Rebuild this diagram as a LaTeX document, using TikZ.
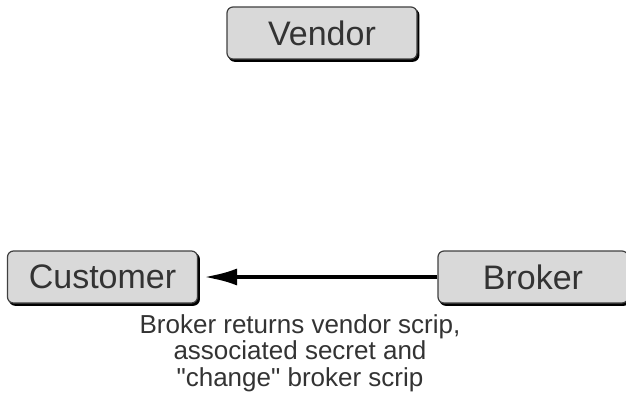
\documentclass[tikz,border=0pt]{standalone}
\usepackage{fontspec}
\setmainfont{Liberation Sans}[Ligatures=TeXOff]
\usetikzlibrary{arrows.meta}
\begin{document}
\begin{tikzpicture}[x=1pt,y=-1pt,
  party/.style={draw=black!75,line width=1.2pt,fill=black!15,rounded corners=6pt,
    minimum width=190pt,minimum height=52pt,inner sep=0pt,text=black!80,
    font=\fontsize{34}{34}\selectfont,
    preaction={fill=black,draw=black,line width=1.2pt,transform canvas={shift={(1.8pt,-2.2pt)}}}},
  flow/.style={line width=4.5pt,-{Latex[length=34pt,width=17pt]}}]
\useasboundingbox (0,0) rectangle (626,396);
\node[party] (vendor) at (322,33) {Vendor};
\node[party] (customer) at (102.5,277) {Customer};
\node[party] (broker) at (533,277) {Broker};
\draw[flow] (broker.west) -- ([xshift=5pt]customer.east);
\node[align=center,font=\fontsize{26}{26.5}\selectfont,inner sep=0pt,text=black!80] (note) at (300,353)
  {Broker returns vendor scrip,\\associated secret and\\"change" broker scrip};
\end{tikzpicture}
\end{document}
